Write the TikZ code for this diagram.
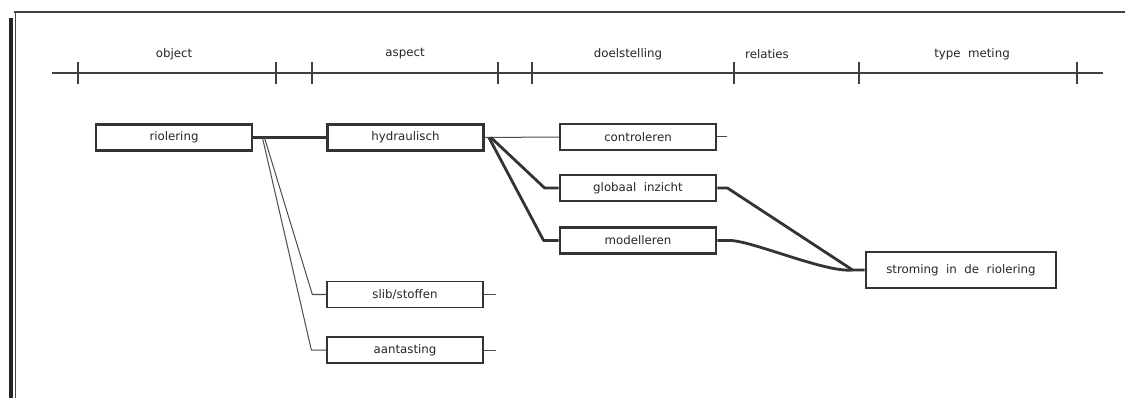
\documentclass[tikz,border=0pt]{standalone}
\usepackage{fontspec}
\setmainfont{DejaVu Sans}
\begin{document}
\begin{tikzpicture}[x=1pt,y=-1pt,
  ink/.style={draw=black!80},
  boldbox/.style={ink, line width=2.8pt, minimum width=156pt, minimum height=26pt, inner sep=0pt, font=\fontsize{11.8}{13}\selectfont, text=black!85},
  thinbox/.style={ink, line width=1.3pt, minimum width=156pt, minimum height=26pt, inner sep=0pt, font=\fontsize{11.8}{13}\selectfont, text=black!85},
  heavy/.style={draw=black!80, line width=2.8pt, line join=round},
  light/.style={draw=black!70, line width=1pt},
  colhead/.style={font=\fontsize{11.8}{13}\selectfont, text=black!85, inner sep=0pt}]
\useasboundingbox (0,0) rectangle (1125,398);
\fill[white] (0,0) rectangle (1125,398);

% frame edges
\draw[draw=black!75, line width=1.8pt] (14,12) -- (1125,12);
\draw[draw=black!70, line width=1pt] (15,12) -- (15,398);
\draw[draw=black!85, line width=3.5pt] (11,18) -- (11,398);

% column scale
\draw[draw=black!75, line width=1.1pt] (52,73) -- (1103,73);
\foreach \t in {78,276,312,498,532,734,859,1077}
  \draw[draw=black!75, line width=1.1pt] (\t,62) -- (\t,84);
\node[colhead] (hObj) at (174,54) {object};
\node[colhead] (hAsp) at (405,54) {aspect};
\node[colhead] (hDoel) at (628,54) {doelstelling};
\node[colhead] (hRel) at (767,54) {relaties};
\node[colhead] (hType) at (972,54) {type\ \ meting};

% boxes
\node[boldbox] (riol) at (174,137.5) {riolering};
\node[boldbox] (hyd) at (405.5,137.5) {hydraulisch};
\node[thinbox] (ctrl) at (638,137) {controleren};
\node[boldbox] (glob) at (638,188) {globaal\ \ inzicht};
\node[boldbox] (mod) at (638,240.5) {modelleren};
\node[boldbox, minimum width=190pt, minimum height=36pt] (strom) at (961,270) {stroming\ \ in\ \ de\ \ riolering};
\node[thinbox] (slib) at (405,294.5) {slib/stoffen};
\node[thinbox] (aant) at (405,350) {aantasting};

% connectors
\draw[heavy] (riol.east) -- (hyd.west);
\draw[light] ([xshift=11pt]riol.east) -- ([xshift=-14pt]slib.west) -- (slib.west);
\draw[light] ([xshift=9pt]riol.east) -- ([xshift=-15pt]aant.west) -- (aant.west);
\draw[light] (hyd.east) -- (ctrl.west);
\draw[heavy] ([xshift=6pt]hyd.east) -- ([xshift=-14pt]glob.west) -- (glob.west);
\draw[heavy] ([xshift=4pt]hyd.east) -- ([xshift=-15pt]mod.west) -- (mod.west);
\draw[heavy] (glob.east) -- ([xshift=10pt]glob.east) -- ([xshift=-12pt]strom.west) -- (strom.west);
\draw[heavy] (mod.east) -- ([xshift=10pt]mod.east) .. controls ([xshift=30pt,yshift=2pt]mod.east) and ([xshift=-40pt,yshift=-3pt]strom.west) .. ([xshift=-12pt]strom.west);

% open ends
\draw[light] (ctrl.east) -- ++(10,0);
\draw[light] (slib.east) -- ++(12,0);
\draw[light] (aant.east) -- ++(12,0);
\end{tikzpicture}
\end{document}
